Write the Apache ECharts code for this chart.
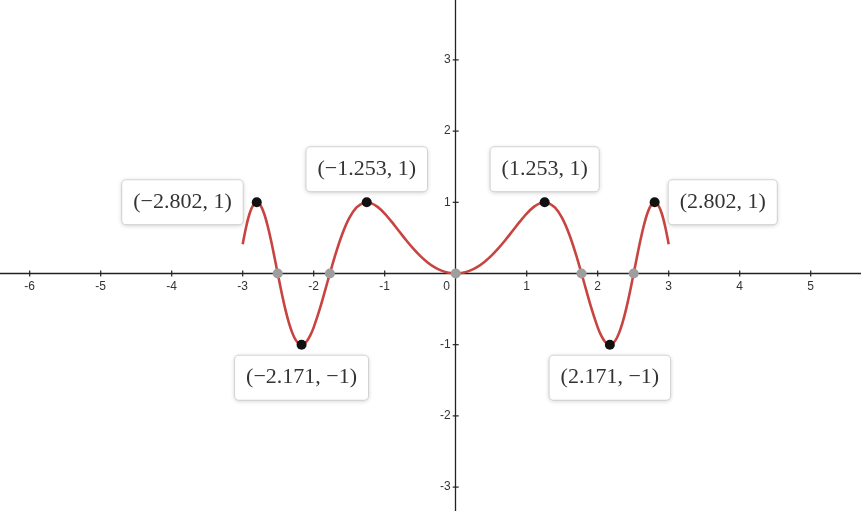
<!DOCTYPE html>
<html>
<head>
<meta charset="utf-8">
<script src="https://cdn.jsdelivr.net/npm/echarts@6/dist/echarts.min.js"></script>
<style>
html,body{margin:0;padding:0;background:#fff;}
#chart{width:861px;height:511px;}
</style>
</head>
<body>
<div id="chart"></div>
<script>
// Curve y = sin(x^2)
const curveX = [-3.0,-2.95,-2.9,-2.85,-2.8,-2.75,-2.7,-2.65,-2.6,-2.55,-2.5,-2.45,-2.4,-2.35,-2.3,-2.25,-2.2,-2.15,-2.1,-2.05,-2.0,-1.9,-1.8,-1.7,-1.6,-1.5,-1.4,-1.3,-1.25,-1.2,-1.1,-1.0,-0.9,-0.8,-0.7,-0.6,-0.5,-0.4,-0.3,-0.2,-0.1,0.0,0.1,0.2,0.3,0.4,0.5,0.6,0.7,0.8,0.9,1.0,1.1,1.2,1.25,1.3,1.4,1.5,1.6,1.7,1.8,1.9,2.0,2.05,2.1,2.15,2.2,2.25,2.3,2.35,2.4,2.45,2.5,2.55,2.6,2.65,2.7,2.75,2.8,2.85,2.9,2.95,3.0];
const curveY = [0.4121,0.6610,0.8494,0.9641,0.9999,0.9579,0.8457,0.6738,0.4589,0.2175,-0.0332,-0.2769,-0.4998,-0.6897,-0.8372,-0.9395,-0.9919,-0.9960,-0.9548,-0.8726,-0.7568,-0.4515,-0.0982,0.2487,0.5487,0.7781,0.9252,0.9929,0.99997,0.9915,0.9356,0.8415,0.7243,0.5972,0.4706,0.3523,0.2474,0.1593,0.0899,0.0400,0.0100,0.0,0.0100,0.0400,0.0899,0.1593,0.2474,0.3523,0.4706,0.5972,0.7243,0.8415,0.9356,0.9915,0.99997,0.9929,0.9252,0.7781,0.5487,0.2487,-0.0982,-0.4515,-0.7568,-0.8726,-0.9548,-0.9960,-0.9919,-0.9395,-0.8372,-0.6897,-0.4998,-0.2769,-0.0332,0.2175,0.4589,0.6738,0.8457,0.9579,0.9999,0.9641,0.8494,0.6610,0.4121];

const extremaX = [-2.802,-2.171,-1.253,1.253,2.171,2.802];
const extremaY = [1,-1,1,1,-1,1];
const extremaLabels = ['(−2.802, 1)','(−2.171, −1)','(−1.253, 1)','(1.253, 1)','(2.171, −1)','(2.802, 1)'];

const zerosX = [-2.507,-1.772,0,1.772,2.507];
const zerosY = [0,0,0,0,0];

const xTicks = [-6,-5,-4,-3,-2,-1,0,1,2,3,4,5];
const xTickLabels = ['-6','-5','-4','-3','-2','-1','0','1','2','3','4','5'];
const yTicks = [-3,-2,-1,1,2,3];
const yTickLabels = ['-3','-2','-1','1','2','3'];

function placement(x, y) {
  if (y < 0) return 'bottom';
  if (Math.abs(x) > 2.5) return x < 0 ? 'left' : 'right';
  return 'top';
}

const chart = echarts.init(document.getElementById('chart'), null, {renderer: 'canvas'});

const tickLabelStyle = {color: '#333', fontSize: 12, fontFamily: 'Liberation Sans, Arial, sans-serif'};

const option = {
  animation: false,
  backgroundColor: '#ffffff',
  grid: {left: -41.3, right: -20.7, top: -11.3, bottom: -47.3, containLabel: false, outerBoundsMode: 'none'},
  xAxis: {
    type: 'value', min: -7, max: 6, interval: 1,
    splitLine: {show: false},
    axisLine: {show: true, onZero: true, lineStyle: {color: '#222', width: 1.3}},
    axisTick: {show: false},
    axisLabel: {show: false}
  },
  yAxis: {
    type: 'value', min: -4, max: 4, interval: 1,
    splitLine: {show: false},
    axisLine: {show: true, onZero: true, lineStyle: {color: '#222', width: 1.3}},
    axisTick: {show: false},
    axisLabel: {show: false}
  },
  series: [
    {
      // tick marks + labels on the x axis
      type: 'scatter', silent: true,
      data: xTicks.map((v, i) => ({
        value: [v, 0],
        label: {
          show: true, formatter: xTickLabels[i], position: 'bottom', distance: 4,
          offset: v === 0 ? [-9, 0] : [0, 0]
        }
      })),
      symbol: 'rect', symbolSize: [1.2, 6],
      itemStyle: {color: '#222', opacity: 1},
      label: {...tickLabelStyle},
      z: 2
    },
    {
      // tick marks + labels on the y axis
      type: 'scatter', silent: true,
      data: yTicks.map((v, i) => ({
        value: [0, v],
        label: {show: true, formatter: yTickLabels[i], position: 'left', distance: 2}
      })),
      symbol: 'rect', symbolSize: [6, 1.2],
      itemStyle: {color: '#222', opacity: 1},
      label: {...tickLabelStyle},
      z: 2
    },
    {
      type: 'line',
      data: curveX.map((x, i) => [x, curveY[i]]),
      smooth: 0.3,
      showSymbol: false,
      lineStyle: {color: '#c74440', width: 2.6},
      z: 3
    },
    {
      type: 'scatter',
      data: zerosX.map((x, i) => [x, zerosY[i]]),
      symbolSize: 10,
      itemStyle: {color: '#9e9e9e', opacity: 1},
      z: 4
    },
    {
      type: 'scatter',
      data: extremaX.map((x, i) => ({
        value: [x, extremaY[i]],
        label: {
          show: true,
          position: placement(x, extremaY[i]),
          distance: placement(x, extremaY[i]) === 'left' || placement(x, extremaY[i]) === 'right' ? 9 : 6,
          formatter: extremaLabels[i]
        }
      })),
      symbolSize: 10,
      itemStyle: {color: '#111', opacity: 1},
      label: {
        color: '#333',
        fontSize: 22,
        fontFamily: 'Liberation Serif, Times New Roman, serif',
        lineHeight: 24,
        backgroundColor: '#ffffff',
        borderColor: '#dcdcdc',
        borderWidth: 1,
        borderRadius: 4,
        padding: [10, 11],
        shadowColor: 'rgba(0,0,0,0.12)',
        shadowBlur: 4,
        shadowOffsetX: 0,
        shadowOffsetY: 1
      },
      z: 5
    }
  ]
};

chart.setOption(option);
</script>
</body>
</html>
